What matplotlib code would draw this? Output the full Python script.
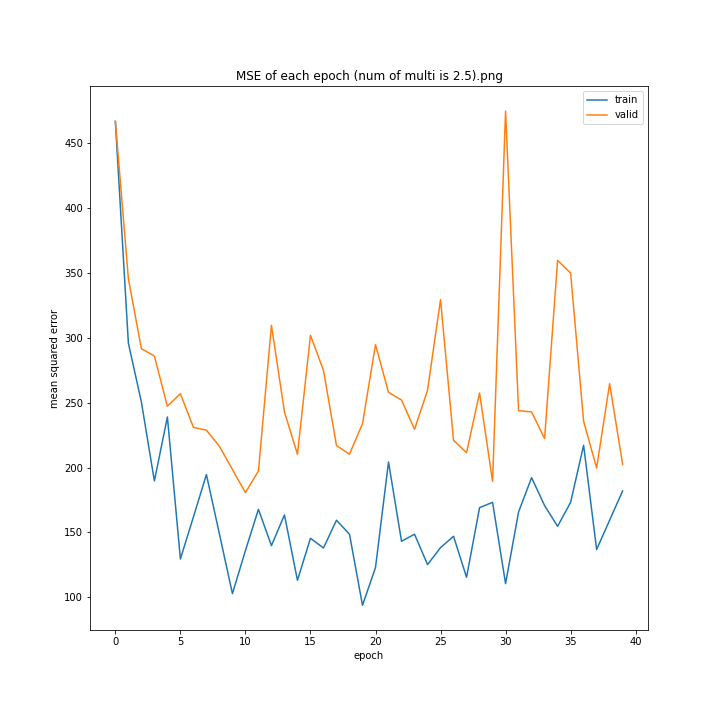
import matplotlib
matplotlib.use("Agg")
import matplotlib.pyplot as plt

# -----------------------
# DATA
# -----------------------
train_mse = [467, 296, 250.6, 189.7, 239, 129.5, 161.9, 194.6, 148.8, 102.8,
             136, 167.8, 139.8, 163.5, 113.1, 145.5, 138, 159.4, 148.6, 93.8,
             122.9, 204.3, 143.2, 148.6, 125.2, 138.3, 147, 115.4, 169.1, 173.2,
             110.5, 165.8, 192.2, 170.7, 154.7, 173.2, 217.2, 136.8, 159.4, 182]
valid_mse = [467, 345.7, 291.7, 286, 247.3, 257, 231, 228.8, 216.4, 198.5,
             180.7, 197.4, 309.7, 242.9, 210.3, 302, 275, 217, 210.3, 233.9,
             294.8, 258, 252.1, 229.5, 259.6, 329.5, 221, 211.5, 257.5, 189.4,
             474.9, 243.9, 242.9, 222.4, 359.8, 350, 235.7, 199.7, 264.7, 202.5]

# -----------------------
# PLOT
# -----------------------
plt.figure(figsize=(10, 10), dpi=72)
plt.subplots_adjust(left=0.125, right=0.9, bottom=0.125, top=0.88)
plt.plot(train_mse, label="train")
plt.plot(valid_mse, label="valid")
plt.title("MSE of each epoch (num of multi is 2.5).png")
plt.xlabel("epoch")
plt.ylabel("mean squared error")
plt.legend()
plt.savefig("out.png")
